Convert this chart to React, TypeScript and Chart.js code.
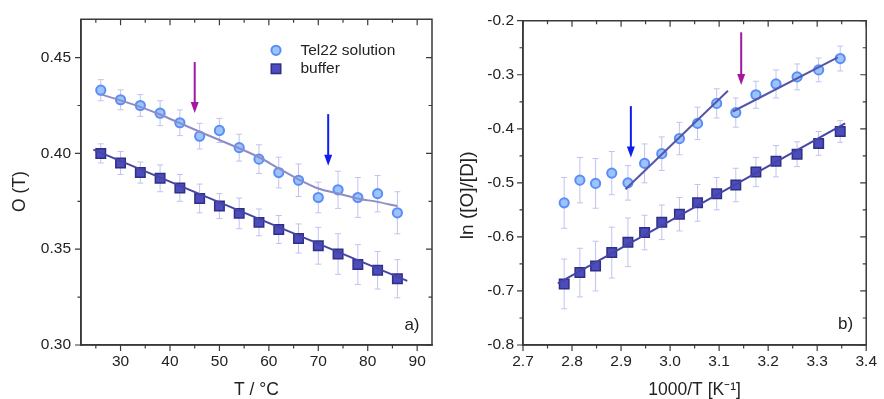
import React, { useEffect, useRef } from "react";
import { Chart, registerables } from "chart.js";

Chart.register(...registerables);

// ---------- Panel a) : O(T) vs temperature ----------
const tempC = [26, 30, 34, 38, 42, 46, 50, 54, 58, 62, 66, 70, 74, 78, 82, 86];
const telO = [0.433, 0.428, 0.425, 0.421, 0.416, 0.409, 0.412, 0.403, 0.397, 0.39, 0.386, 0.377, 0.381, 0.377, 0.379, 0.369];
const telOErr = [0.0055, 0.0052, 0.0057, 0.0065, 0.0067, 0.0067, 0.0063, 0.007, 0.0075, 0.008, 0.0085, 0.008, 0.0097, 0.0104, 0.0095, 0.011];
const bufO = [0.4, 0.395, 0.39, 0.387, 0.382, 0.3765, 0.3725, 0.3687, 0.364, 0.3603, 0.3556, 0.3518, 0.3475, 0.342, 0.339, 0.3346];
const bufOErr = [0.005, 0.006, 0.0055, 0.007, 0.007, 0.0075, 0.0065, 0.008, 0.007, 0.0073, 0.0076, 0.0096, 0.0106, 0.0104, 0.0098, 0.01];
const telOFitX = [26, 30, 34, 38, 42, 46, 50, 54, 58, 62, 66, 70, 74, 78, 82, 86];
const telOFitY = [0.4308, 0.4277, 0.4243, 0.4203, 0.4158, 0.4113, 0.407, 0.4027, 0.398, 0.3922, 0.3865, 0.3817, 0.3791, 0.3765, 0.3747, 0.3725];
const bufOFitX = [24.5, 88];
const bufOFitY = [0.402, 0.3335];
const aXTicks = [30, 40, 50, 60, 70, 80, 90];
const aXMinor = [25, 35, 45, 55, 65, 75, 85];
const aYTicks = [0.3, 0.35, 0.4, 0.45];
const aYMinor = [0.325, 0.375, 0.425];
const aArrows = [
  { x: 45, from: 0.4477, to: 0.4211, color: "#a3189f" },
  { x: 72, from: 0.4205, to: 0.3935, color: "#0f1ef0" },
];

// ---------- Panel b) : ln([O]/[D]) vs 1000/T ----------
const invT = [2.784, 2.816, 2.848, 2.881, 2.914, 2.948, 2.983, 3.019, 3.056, 3.095, 3.134, 3.175, 3.216, 3.259, 3.303, 3.347];
const telLn = [-0.537, -0.495, -0.501, -0.482, -0.5, -0.464, -0.446, -0.418, -0.39, -0.353, -0.37, -0.337, -0.317, -0.304, -0.291, -0.27];
const telLnErr = [0.047, 0.042, 0.046, 0.04, 0.032, 0.036, 0.031, 0.03, 0.03, 0.027, 0.027, 0.025, 0.026, 0.024, 0.022, 0.023];
const bufLn = [-0.687, -0.666, -0.654, -0.629, -0.61, -0.592, -0.573, -0.558, -0.537, -0.52, -0.504, -0.48, -0.46, -0.447, -0.427, -0.405];
const bufLnErr = [0.046, 0.045, 0.046, 0.047, 0.045, 0.032, 0.032, 0.031, 0.034, 0.03, 0.031, 0.027, 0.029, 0.023, 0.022, 0.02];
const telFit1X = [2.909, 3.118];
const telFit1Y = [-0.512, -0.3295];
const telFit2X = [3.128, 3.342];
const telFit2Y = [-0.368, -0.268];
const bufLnFitX = [2.771, 3.357];
const bufLnFitY = [-0.686, -0.39];
const bXTicks = [2.7, 2.8, 2.9, 3.0, 3.1, 3.2, 3.3, 3.4];
const bXMinor = [2.75, 2.85, 2.95, 3.05, 3.15, 3.25, 3.35];
const bYTicks = [-0.8, -0.7, -0.6, -0.5, -0.4, -0.3, -0.2];
const bYMinor = [-0.75, -0.65, -0.55, -0.45, -0.35, -0.25];
const bArrows = [
  { x: 2.92, from: -0.358, to: -0.453, color: "#0f1ef0" },
  { x: 3.145, from: -0.2215, to: -0.319, color: "#a3189f" },
];

// ---------- styles ----------
const FONT = "'Liberation Sans', Arial, sans-serif";
const TEXT = "#222222";
const FRAME_COLOR = "#3a3a3a";
const CIRC_FILL = "#9cc3fb";
const CIRC_EDGE = "#5a8ef6";
const SQ_FILL = "#4c4cbc";
const SQ_EDGE = "#2f2f86";
const ERR = "#c2c2f0";
const CIRC_R = 4.6;
const SQ_R = 6.7;

const pts = (xs: number[], ys: number[]) => xs.map((x, i) => ({ x, y: ys[i] }));

const circleSet = (label: string, xs: number[], ys: number[]) => ({
  label,
  data: pts(xs, ys),
  showLine: false,
  pointStyle: "circle",
  pointRadius: CIRC_R,
  pointBackgroundColor: CIRC_FILL,
  pointBorderColor: CIRC_EDGE,
  pointBorderWidth: 2,
  order: 2,
});
const squareSet = (label: string, xs: number[], ys: number[]) => ({
  label,
  data: pts(xs, ys),
  showLine: false,
  pointStyle: "rect",
  pointRadius: SQ_R,
  pointBackgroundColor: SQ_FILL,
  pointBorderColor: SQ_EDGE,
  pointBorderWidth: 1.5,
  order: 2,
});
const fitSet = (label: string, xs: number[], ys: number[], color: string, smooth = false) => ({
  label,
  data: pts(xs, ys),
  showLine: true,
  pointRadius: 0,
  borderColor: color,
  borderWidth: 2,
  cubicInterpolationMode: smooth ? "monotone" : "default",
  tension: smooth ? 0.4 : 0,
  order: 1,
});

type Panel = {
  xMinor: number[];
  yMinor: number[];
  xMajor: number[];
  yMajor: number[];
  errors: { xs: number[]; ys: number[]; es: number[] }[];
  arrows: { x: number; from: number; to: number; color: string }[];
  legend: boolean;
  label: string;
  labelDx: number;
  labelDy: number;
  yTitle: string;
  yTitleSize: number;
  yTitleDx: number;
  yTitleDy: number;
};

const decor = (p: Panel) => ({
  id: "decor",
  beforeDatasetsDraw(chart: any) {
    const ctx = chart.ctx;
    const xs = chart.scales.x;
    const ys = chart.scales.y;
    ctx.save();
    ctx.strokeStyle = ERR;
    ctx.lineWidth = 1;
    for (const s of p.errors) {
      s.xs.forEach((xv, i) => {
        const px = xs.getPixelForValue(xv);
        const t = ys.getPixelForValue(s.ys[i] + s.es[i]);
        const b = ys.getPixelForValue(s.ys[i] - s.es[i]);
        ctx.beginPath();
        ctx.moveTo(px, t);
        ctx.lineTo(px, b);
        ctx.moveTo(px - 3, t);
        ctx.lineTo(px + 3, t);
        ctx.moveTo(px - 3, b);
        ctx.lineTo(px + 3, b);
        ctx.stroke();
      });
    }
    ctx.restore();
  },
  afterDraw(chart: any) {
    const ctx = chart.ctx;
    const a = chart.chartArea;
    const xs = chart.scales.x;
    const ys = chart.scales.y;
    ctx.save();
    // arrows
    for (const ar of p.arrows) {
      const px = xs.getPixelForValue(ar.x);
      const y0 = ys.getPixelForValue(ar.from);
      const y1 = ys.getPixelForValue(ar.to);
      ctx.strokeStyle = ar.color;
      ctx.fillStyle = ar.color;
      ctx.lineWidth = 2;
      ctx.beginPath();
      ctx.moveTo(px, y0);
      ctx.lineTo(px, y1 - 8);
      ctx.stroke();
      ctx.beginPath();
      ctx.moveTo(px - 4, y1 - 11);
      ctx.lineTo(px + 4, y1 - 11);
      ctx.lineTo(px, y1);
      ctx.closePath();
      ctx.fill();
    }
    // frame
    ctx.strokeStyle = FRAME_COLOR;
    ctx.lineWidth = 1.5;
    ctx.beginPath();
    ctx.moveTo(a.left, a.top);
    ctx.lineTo(a.right, a.top);
    ctx.lineTo(a.right, a.bottom);
    ctx.lineTo(a.left, a.bottom);
    ctx.closePath();
    ctx.stroke();
    // ticks: outward on left/bottom, inward on top/right
    ctx.lineWidth = 1.2;
    ctx.beginPath();
    const xt = (v: number, len: number) => {
      const px = xs.getPixelForValue(v);
      ctx.moveTo(px, a.bottom);
      ctx.lineTo(px, a.bottom + len);
      ctx.moveTo(px, a.top);
      ctx.lineTo(px, a.top + len);
    };
    const yt = (v: number, len: number) => {
      const py = ys.getPixelForValue(v);
      ctx.moveTo(a.left, py);
      ctx.lineTo(a.left - len, py);
      ctx.moveTo(a.right, py);
      ctx.lineTo(a.right - len, py);
    };
    p.xMajor.forEach((v) => xt(v, 6));
    p.xMinor.forEach((v) => xt(v, 3.5));
    p.yMajor.forEach((v) => yt(v, 6));
    p.yMinor.forEach((v) => yt(v, 3.5));
    ctx.stroke();
    // legend
    ctx.textBaseline = "middle";
    if (p.legend) {
      const lx = a.left + 195;
      const ly1 = a.top + 31;
      const ly2 = a.top + 49.5;
      ctx.beginPath();
      ctx.arc(lx, ly1, CIRC_R, 0, Math.PI * 2);
      ctx.fillStyle = CIRC_FILL;
      ctx.fill();
      ctx.strokeStyle = CIRC_EDGE;
      ctx.lineWidth = 2;
      ctx.stroke();
      const h = SQ_R * Math.SQRT1_2;
      ctx.fillStyle = SQ_FILL;
      ctx.fillRect(lx - h, ly2 - h, 2 * h, 2 * h);
      ctx.strokeStyle = SQ_EDGE;
      ctx.lineWidth = 1.5;
      ctx.strokeRect(lx - h, ly2 - h, 2 * h, 2 * h);
      ctx.fillStyle = TEXT;
      ctx.font = `15.5px ${FONT}`;
      ctx.textAlign = "left";
      ctx.fillText("Tel22 solution", a.left + 219.5, ly1);
      ctx.fillText("buffer", a.left + 219.5, ly2);
    }
    // panel label
    ctx.fillStyle = TEXT;
    ctx.font = `17px ${FONT}`;
    ctx.textAlign = "right";
    ctx.fillText(p.label, a.right - p.labelDx, a.bottom - p.labelDy);
    // y title
    ctx.save();
    ctx.translate(a.left - p.yTitleDx, (a.top + a.bottom) / 2 + p.yTitleDy);
    ctx.rotate(-Math.PI / 2);
    ctx.textAlign = "center";
    ctx.font = `${p.yTitleSize}px ${FONT}`;
    ctx.fillText(p.yTitle, 0, 0);
    ctx.restore();
    ctx.restore();
  },
});

const axis = (
  min: number,
  max: number,
  ticks: number[],
  digits: number,
  pad: number,
  fit: (s: any) => void,
  title?: string
) => ({
  type: "linear",
  min,
  max,
  afterBuildTicks: (s: any) => {
    s.ticks = ticks.map((v) => ({ value: v }));
  },
  afterFit: fit,
  grid: { display: false, drawTicks: false },
  border: { display: true, color: FRAME_COLOR, width: 1.5 },
  ticks: {
    padding: pad,
    color: TEXT,
    font: { family: FONT, size: 15.5 },
    callback: (v: number) => (digits === 0 ? String(Math.round(v)) : Number(v).toFixed(digits)),
  },
  title: title
    ? { display: true, text: title, color: TEXT, font: { family: FONT, size: 17.5, lineHeight: 1 }, padding: 0 }
    : { display: false },
});

function makeChart(canvas: HTMLCanvasElement, which: "a" | "b") {
  const isA = which === "a";
  const datasets = isA
    ? [
        circleSet("Tel22 solution", tempC, telO),
        squareSet("buffer", tempC, bufO),
        fitSet("Tel22 fit", telOFitX, telOFitY, "#8c8cc8", true),
        fitSet("buffer fit", bufOFitX, bufOFitY, "#4545a5"),
      ]
    : [
        circleSet("Tel22 solution", invT, telLn),
        squareSet("buffer", invT, bufLn),
        fitSet("Tel22 fit high T", telFit1X, telFit1Y, "#5656a8"),
        fitSet("Tel22 fit low T", telFit2X, telFit2Y, "#5656a8"),
        fitSet("buffer fit", bufLnFitX, bufLnFitY, "#4545a5"),
      ];
  const panel: Panel = isA
    ? {
        xMajor: aXTicks,
        xMinor: aXMinor,
        yMajor: aYTicks,
        yMinor: aYMinor,
        errors: [
          { xs: tempC, ys: telO, es: telOErr },
          { xs: tempC, ys: bufO, es: bufOErr },
        ],
        arrows: aArrows,
        legend: true,
        label: "a)",
        labelDx: 12.5,
        labelDy: 20,
        yTitle: "O (T)",
        yTitleSize: 17.5,
        yTitleDx: 61,
        yTitleDy: 9.5,
      }
    : {
        xMajor: bXTicks,
        xMinor: bXMinor,
        yMajor: bYTicks,
        yMinor: bYMinor,
        errors: [
          { xs: invT, ys: telLn, es: telLnErr },
          { xs: invT, ys: bufLn, es: bufLnErr },
        ],
        arrows: bArrows,
        legend: false,
        label: "b)",
        labelDx: 13,
        labelDy: 21,
        yTitle: "ln ([O]/[D])",
        yTitleSize: 19,
        yTitleDx: 55,
        yTitleDy: 12.5,
      };
  return new Chart(canvas, {
    type: "scatter",
    data: { datasets } as any,
    options: {
      responsive: false,
      animation: false,
      devicePixelRatio: 1,
      layout: { padding: { top: isA ? 19 : 20.7, right: 10, left: 0, bottom: 0 } },
      plugins: { legend: { display: false }, tooltip: { enabled: false } },
      scales: {
        x: isA
          ? axis(22, 93, aXTicks, 0, 7, (s: any) => { s.height = 54; }, "T / °C")
          : axis(2.7, 3.4, bXTicks, 1, 7, (s: any) => { s.height = 54; }, "1000/T [K\u207B\u00B9]"),
        y: isA
          ? axis(0.3, 0.47, aYTicks, 2, 10, (s: any) => { s.width = 81; })
          : axis(-0.8, -0.2, bYTicks, 1, 9, (s: any) => { s.width = 81; }),
      } as any,
    },
    plugins: [decor(panel)],
  } as any);
}

export default function App() {
  const refA = useRef<HTMLCanvasElement>(null);
  const refB = useRef<HTMLCanvasElement>(null);
  useEffect(() => {
    const ca = makeChart(refA.current!, "a");
    const cb = makeChart(refB.current!, "b");
    return () => {
      ca.destroy();
      cb.destroy();
    };
  }, []);
  return (
    <div style={{ position: "fixed", left: 0, top: 0, width: 884, height: 399, background: "#fff" }}>
      <canvas ref={refA} width={442} height={399} style={{ position: "absolute", left: 0, top: 0, width: 442, height: 399 }} />
      <canvas ref={refB} width={442} height={399} style={{ position: "absolute", left: 442, top: 0, width: 442, height: 399 }} />
    </div>
  );
}
